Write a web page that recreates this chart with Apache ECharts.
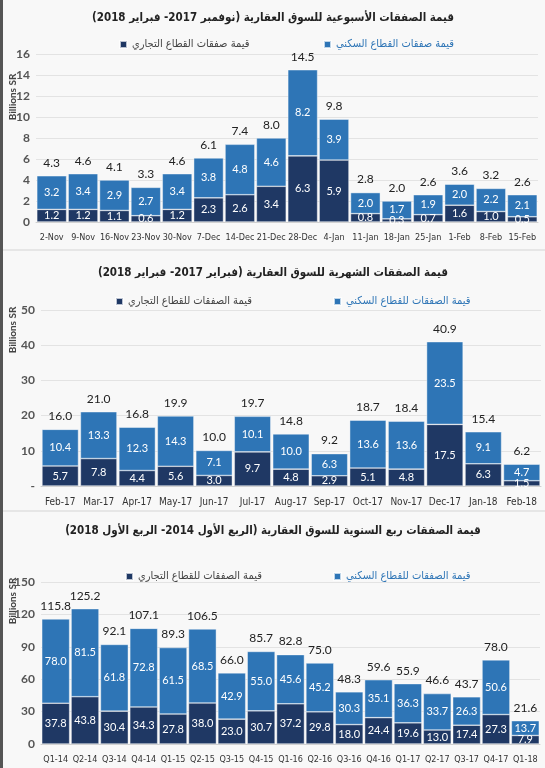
<!DOCTYPE html>
<html><head><meta charset="utf-8">
<script src="https://cdn.jsdelivr.net/npm/echarts@6/dist/echarts.min.js"></script>
<style>html,body{margin:0;padding:0;background:#f7f7f7;}#c{width:545px;height:768px;}</style>
</head><body><div id="c"></div><script>
// ---- Weekly panel ----
const weeklyCats = ['2-Nov','9-Nov','16-Nov','23-Nov','30-Nov','7-Dec','14-Dec','21-Dec','28-Dec','4-Jan','11-Jan','18-Jan','25-Jan','1-Feb','8-Feb','15-Feb'];
const weeklyCommercial = [1.2,1.2,1.1,0.6,1.2,2.3,2.6,3.4,6.3,5.9,0.8,0.3,0.7,1.6,1.0,0.5];
const weeklyResidential = [3.2,3.4,2.9,2.7,3.4,3.8,4.8,4.6,8.2,3.9,2.0,1.7,1.9,2.0,2.2,2.1];
const weeklyTotal = [4.3,4.6,4.1,3.3,4.6,6.1,7.4,8.0,14.5,9.8,2.8,2.0,2.6,3.6,3.2,2.6];
// ---- Monthly panel ----
const monthlyCats = ['Feb-17','Mar-17','Apr-17','May-17','Jun-17','Jul-17','Aug-17','Sep-17','Oct-17','Nov-17','Dec-17','Jan-18','Feb-18'];
const monthlyCommercial = [5.7,7.8,4.4,5.6,3.0,9.7,4.8,2.9,5.1,4.8,17.5,6.3,1.5];
const monthlyResidential = [10.4,13.3,12.3,14.3,7.1,10.1,10.0,6.3,13.6,13.6,23.5,9.1,4.7];
const monthlyTotal = [16.0,21.0,16.8,19.9,10.0,19.7,14.8,9.2,18.7,18.4,40.9,15.4,6.2];
// ---- Quarterly panel ----
const quarterCats = ['Q1-14','Q2-14','Q3-14','Q4-14','Q1-15','Q2-15','Q3-15','Q4-15','Q1-16','Q2-16','Q3-16','Q4-16','Q1-17','Q2-17','Q3-17','Q4-17','Q1-18'];
const quarterCommercial = [37.8,43.8,30.4,34.3,27.8,38.0,23.0,30.7,37.2,29.8,18.0,24.4,19.6,13.0,17.4,27.3,7.9];
const quarterResidential = [78.0,81.5,61.8,72.8,61.5,68.5,42.9,55.0,45.6,45.2,30.3,35.1,36.3,33.7,26.3,50.6,13.7];
const quarterTotal = [115.8,125.2,92.1,107.1,89.3,106.5,66.0,85.7,82.8,75.0,48.3,59.6,55.9,46.6,43.7,78.0,21.6];

const titles = [
  'قيمة الصفقات الأسبوعية للسوق العقارية (نوفمبر 2017- فبراير 2018)',
  'قيمة الصفقات الشهرية للسوق العقارية (فبراير 2017- فبراير 2018)',
  'قيمة الصفقات ربع السنوية للسوق العقارية (الربع الأول 2014- الربع الأول 2018)'
];
const legendCommercial = ['قيمة صفقات القطاع التجاري','قيمة الصفقات للقطاع التجاري','قيمة الصفقات للقطاع التجاري'];
const legendResidential = ['قيمة صفقات القطاع السكني','قيمة الصفقات للقطاع السكني','قيمة الصفقات للقطاع السكني'];
const yMax = [16, 50, 150];
const yInterval = [2, 10, 30];

const FONT = 'Lato, "DejaVu Sans", sans-serif';
const NARROW = '"Liberation Sans Narrow", "DejaVu Sans Condensed", sans-serif';
const AR = '"DejaVu Sans Condensed", "DejaVu Sans", sans-serif';
const BLUE = '#2E75B6', NAVY = '#1F3864';
const RLM = '\u200F';

const panels = [
  {cats: weeklyCats, com: weeklyCommercial, res: weeklyResidential, tot: weeklyTotal},
  {cats: monthlyCats, com: monthlyCommercial, res: monthlyResidential, tot: monthlyTotal},
  {cats: quarterCats, com: quarterCommercial, res: quarterResidential, tot: quarterTotal}
];
const grids = [
  {left: 36, right: 7, top: 54, height: 168},
  {left: 41, right: 4, top: 310, height: 176},
  {left: 41, right: 5, top: 582, height: 162}
];
const titleTops = [7, 262, 520];
const legendTops = [34, 291, 566];
const legendLeftCom = [114, 110, 120];
const legendLeftRes = [318, 328, 328];
const unitY = [97, 330, 601];

const option = {
  backgroundColor: '#f8f8f8',
  animation: false,
  title: titles.map((t, i) => ({
    text: RLM + t + RLM, left: 268, textAlign: 'center', top: titleTops[i],
    textStyle: {fontFamily: AR, fontSize: 11.5, fontWeight: 'bold', color: '#222'}
  })),
  legend: [],
  grid: grids,
  xAxis: panels.map((p, i) => ({
    type: 'category', gridIndex: i, data: p.cats,
    axisTick: {show: false},
    axisLine: {lineStyle: {color: '#cfcfcf'}},
    axisLabel: {fontFamily: NARROW, fontSize: i === 1 ? 10 : 9, color: '#333', margin: 11, interval: 0}
  })),
  yAxis: panels.map((p, i) => ({
    type: 'value', gridIndex: i, min: 0, max: yMax[i], interval: yInterval[i],
    axisLine: {show: false}, axisTick: {show: false},
    splitLine: {lineStyle: {color: '#e3e3e3'}},
    axisLabel: {fontFamily: FONT, fontSize: 12, fontWeight: 'bold', color: '#555', margin: 6,
      formatter: v => (i === 1 && v === 0) ? '-' : String(v)}
  })),
  graphic: [
    {type: 'rect', left: 0, top: 0, shape: {width: 3, height: 768}, style: {fill: '#555'}},
    {type: 'rect', left: 3, top: 249, shape: {width: 542, height: 2}, style: {fill: '#e6e6e6'}},
    {type: 'rect', left: 3, top: 510, shape: {width: 542, height: 2}, style: {fill: '#e6e6e6'}}
  ].concat(unitY.map(y => ({
    type: 'text', x: 13, y: y, rotation: Math.PI / 2,
    style: {text: 'Billions SR', fontFamily: FONT, fontSize: 10, fontWeight: 'bold', fill: '#444', align: 'center', verticalAlign: 'middle'}
  }))),
  series: []
};

panels.forEach((p, i) => {
  option.legend.push({
    left: legendLeftCom[i], top: legendTops[i], data: [legendCommercial[i]], icon: 'rect',
    itemWidth: 7, itemHeight: 7, selectedMode: false,
    textStyle: {fontFamily: AR, fontSize: 11, color: '#444'}
  });
  option.legend.push({
    left: legendLeftRes[i], top: legendTops[i], data: [legendResidential[i]], icon: 'rect',
    itemWidth: 7, itemHeight: 7, selectedMode: false,
    textStyle: {fontFamily: AR, fontSize: 11, color: BLUE}
  });
  const common = {
    type: 'bar', xAxisIndex: i, yAxisIndex: i, stack: 's' + i, barCategoryGap: '5%'
  };
  option.series.push(Object.assign({}, common, {
    name: legendCommercial[i], data: p.com,
    itemStyle: {color: NAVY, borderColor: 'rgba(255,255,255,0.7)', borderWidth: 0.6},
    label: {show: true, position: 'inside', color: '#fff', fontFamily: FONT, fontSize: 11,
      formatter: d => d.value.toFixed(1)}
  }));
  option.series.push(Object.assign({}, common, {
    name: legendResidential[i], data: p.res,
    itemStyle: {color: BLUE, borderColor: 'rgba(255,255,255,0.7)', borderWidth: 0.6},
    label: {show: true, position: 'inside', color: '#fff', fontFamily: FONT, fontSize: 11,
      formatter: d => d.value.toFixed(1)}
  }));
  option.series.push(Object.assign({}, common, {
    name: 'total' + i, data: p.cats.map(() => 0),
    itemStyle: {color: 'transparent'},
    label: {show: true, position: 'top', distance: 7, color: '#222', fontFamily: FONT, fontSize: 12,
      formatter: d => p.tot[d.dataIndex].toFixed(1)}
  }));
});

const chart = echarts.init(document.getElementById('c'));
chart.setOption(option);
</script></body></html>
